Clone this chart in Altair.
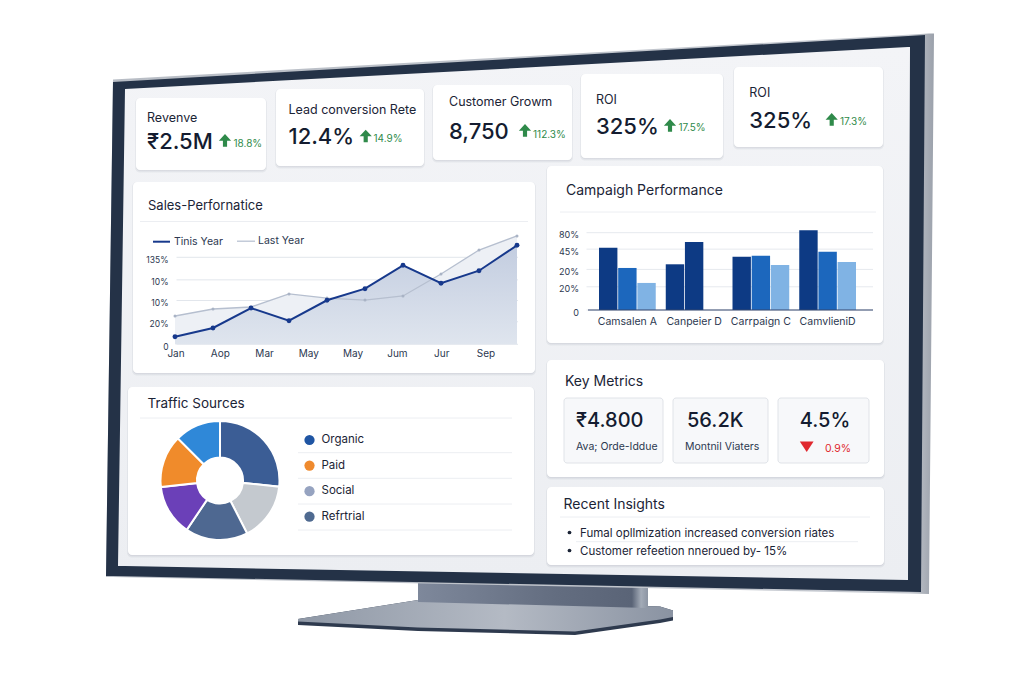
import altair as alt
import pandas as pd

# ---------------- data ----------------
kpi_titles = ["Revenve", "Lead conversion Rete", "Customer Growm", "ROI", "ROI"]
kpi_values = ["₹2.5M", "12.4%", "8,750", "325%", "325%"]
kpi_changes = ["18.8%", "14.9%", "112.3%", "17.5%", "17.3%"]

sales_index = list(range(10))
this_year = [11.8, 25.3, 56.3, 36.6, 68.3, 86.3, 122.6, 94.7, 114.2, 153.6]
last_year = [43.9, 54.8, 57.9, 78.1, 71.8, 68.7, 75.0, 109.1, 146.3, 168.1]
month_labels = ["Jan", "Aop", "Mar", "May", "May", "Jum", "Jur", "Sep"]
sales_ticks = [135, 100, 68, 35, 0]
sales_tick_labels = ["135%", "10%", "10%", "20%", "0"]
sales_legend = ["Tinis Year", "Last Year"]

campaign_labels = ["Camsalen A", "Canpeier D", "Carrpaign C", "CamvlieniD"]
bar_campaign = ["Camsalen A"] * 3 + ["Canpeier D"] * 2 + ["Carrpaign C"] * 3 + ["CamvlieniD"] * 3
bar_slot = ["1", "2", "3", "1", "2", "1", "2", "3", "1", "2", "3"]
bar_tone = ["dark", "mid", "light", "dark", "dark", "dark", "mid", "light", "dark", "mid", "light"]
bar_values = [64.5, 43.5, 28.0, 47.3, 70.4, 55.2, 56.2, 46.6, 82.5, 60.4, 49.7]
camp_ticks = [80, 63, 42, 24, 0]
camp_tick_labels = ["80%", "45%", "20%", "20%", "0"]

donut_sources = ["Organic", "Social", "Refrtrial", "Other 1", "Paid", "Other 2"]
donut_shares = [26.7, 15.8, 17.0, 13.8, 14.3, 12.5]
legend_names = ["Organic", "Paid", "Social", "Refrtrial"]

metric_values = ["₹4.800", "56.2K", "4.5%"]
metric_labels = ["Ava; Orde-Iddue", "Montnil Viaters"]
metric_change = "0.9%"

insights = ["Fumal opllmization increased conversion riates",
            "Customer refeetion nneroued by- 15%"]

# ---------------- styles / layout ----------------
OX, OY = 8, 8
W, H = 1008, 667
FONT = "Inter"
INK = "#1b2436"
SUB = "#2c3850"
GREEN = "#2f8a4a"
RED = "#e0282e"
NAVY = "#17398c"
TONES = ["dark", "mid", "light"]
TONE_COLORS = ["#0d3a84", "#1c67bd", "#80b3e4"]
DONUT_COLORS = ["#3b5d95", "#c4c9cf", "#4e6891", "#6b40b8", "#f08b2b", "#2f88d8"]
LEGEND_COLORS = ["#1f55a3", "#ef8a2e", "#96a3c0", "#4f6a90"]

one = pd.DataFrame({"k": [0]})
layers = []


def X(v):
    return v - OX


def Y(v):
    return v - OY


def rect(x1, y1, x2, y2, fill, radius=0, opacity=1.0, stroke=None, sw=1.0):
    kw = dict(fill=fill, cornerRadius=radius, opacity=opacity)
    if stroke:
        kw.update(stroke=stroke, strokeWidth=sw)
    layers.append(alt.Chart(one).mark_rect(**kw).encode(
        x=alt.value(X(x1)), x2=alt.value(X(x2)), y=alt.value(Y(y1)), y2=alt.value(Y(y2))))


def card(x1, y1, x2, y2, fill="#ffffff", radius=4):
    rect(x1 - 1, y1, x2 + 1, y2 + 2.5, "#1c2a44", radius + 1, 0.05)
    rect(x1, y1 + 0.5, x2, y2 + 1.2, "#1c2a44", radius, 0.06)
    rect(x1, y1, x2, y2, fill, radius)


def label(s, x, y, size, color=INK, weight=400, align="left", baseline="middle"):
    layers.append(alt.Chart(one).mark_text(
        text=s, fontSize=size, color=color, fontWeight=weight, align=align,
        baseline=baseline, font=FONT).encode(x=alt.value(X(x)), y=alt.value(Y(y))))


def hline(x1, x2, y, color, width=1.0, y2=None):
    layers.append(alt.Chart(one).mark_rule(color=color, strokeWidth=width).encode(
        x=alt.value(X(x1)), x2=alt.value(X(x2)), y=alt.value(Y(y)),
        y2=alt.value(Y(y if y2 is None else y2))))


def glyph(path, x, y, size, color):
    layers.append(alt.Chart(one).mark_point(
        shape=path, size=size, filled=True, color=color, opacity=1, strokeWidth=0).encode(
        x=alt.value(X(x)), y=alt.value(Y(y))))


def shape(xs, tops, bots, color):
    df = pd.DataFrame({"x": [X(v) for v in xs], "y": [Y(v) for v in tops],
                       "y2": [Y(v) for v in bots]})
    layers.append(alt.Chart(df).mark_area(orient="vertical", interpolate="linear",
                                          color=color, opacity=1).encode(
        x=alt.X("x:Q", scale=None, axis=None),
        y=alt.Y("y:Q", scale=None, axis=None, stack=False),
        y2="y2:Q"))


def hgrad(stops):
    return alt.Gradient(gradient="linear", x1=0, x2=1, y1=0, y2=0,
                        stops=[alt.GradientStop(color=c, offset=o) for o, c in stops])


def vgrad(stops):
    return alt.Gradient(gradient="linear", x1=0, x2=0, y1=0, y2=1,
                        stops=[alt.GradientStop(color=c, offset=o) for o, c in stops])


# ---------------- monitor stand ----------------
shape([298, 418, 575, 660, 673], [619, 600, 604, 606.5, 610.5], [625, 631, 635, 623, 620.5], "#2e3a4e")
shape([298, 418, 575, 660, 673], [619, 600, 604, 606.5, 610.5], [621.5, 627.5, 631.5, 619.5, 617],
      hgrad([(0, "#8f98a6"), (0.55, "#b4bac4"), (1, "#8a93a2")]))
shape([418, 648], [570, 575], [602, 608], hgrad([(0, "#7e889b"), (0.6, "#636d80"), (0.93, "#5a6477"), (0.97, "#a3abb7"), (1, "#8c95a3")]))

# ---------------- monitor body ----------------
shape([106, 113, 929, 934], [577, 79.5, 33.5, 33.5], [577, 577.1, 594, 33.6], hgrad([(0, "#b8bdc5"), (0.97, "#c6cad1"), (1, "#9ba1ab")]))
shape([106, 113, 921, 925], [576, 82, 35.2, 35], [576, 576.1, 592, 35.1], "#243247")
shape([118, 125, 908, 910], [566, 89, 47.1, 47], [566, 566.1, 580, 47.1],
      vgrad([(0, "#f3f4f7"), (1, "#eceef2")]))

# ---------------- KPI cards ----------------
kpi_boxes = [(136, 98, 266, 170), (276, 89, 424, 166), (433, 85, 572, 160),
             (581, 74, 723, 158), (734, 67, 883, 147)]
kpi_text = [(147, 117.7, 141.7, 225, 233.5, 144),
            (288.5, 110, 137.3, 365.7, 373.5, 139),
            (449, 102.3, 131.7, 525, 533, 135),
            (596, 100, 126.7, 670, 678.5, 128.3),
            (749.3, 93.3, 120.7, 831.7, 840, 121.7)]
ARROW = "M0,-1L1,0.08L0.34,0.08L0.34,1.05L-0.34,1.05L-0.34,0.08L-1,0.08Z"
for (x1, y1, x2, y2), (tx, ty, vy, ax, cx, cy), t, v, c in zip(
        kpi_boxes, kpi_text, kpi_titles, kpi_values, kpi_changes):
    card(x1, y1, x2, y2)
    label(t, tx, ty, 12.5, INK, 400)
    label(v, tx, vy, 22, "#141c30", 500)
    glyph(ARROW, ax, vy - 1.5, 150, GREEN)
    label(c, cx, cy, 10, GREEN, 400)

# ---------------- Sales performance ----------------
card(133, 182, 535, 373)
label("Sales-Perfornatice", 148, 205.5, 13, INK, 400)
hline(140, 528, 221.5, "#eceef2", 1)
hline(153, 170, 241.7, NAVY, 2)
label(sales_legend[0], 174, 241.7, 10.5, SUB)
hline(237, 255, 241.2, "#b9c2d2", 1.3)
label(sales_legend[1], 258, 240.7, 10.5, SUB)

sales_df = pd.DataFrame({"t": sales_index, "this": this_year, "last": last_year})
xs_sales = alt.Scale(type="point", domain=sales_index, range=[X(175), X(517)], padding=0)
ys_sales = alt.Scale(domain=[0, 175], range=[Y(344.3), Y(344.3 - 175 * 0.6444)], nice=False, zero=False)
tick_df = pd.DataFrame({"v": sales_ticks, "lab": sales_tick_labels})

layers.append(alt.Chart(tick_df).mark_rule(color="#e2e6ec", strokeWidth=1).encode(
    y=alt.Y("v:Q", scale=ys_sales, axis=None), x=alt.value(X(176.5)), x2=alt.value(X(518))))
layers.append(alt.Chart(tick_df).mark_text(align="right", baseline="middle", fontSize=8.5,
                                           color=SUB, font=FONT, dy=2.5).encode(
    y=alt.Y("v:Q", scale=ys_sales, axis=None), x=alt.value(X(168.5)), text="lab:N"))

sbase = alt.Chart(sales_df).encode(x=alt.X("t:O", scale=xs_sales, axis=None))
layers.append(sbase.mark_area(color="#edf0f5", interpolate="linear").encode(
    y=alt.Y("last:Q", scale=ys_sales, axis=None, stack=False)))
layers.append(sbase.mark_area(interpolate="linear", color=alt.Gradient(
    gradient="linear", x1=1, x2=1, y1=0, y2=1,
    stops=[alt.GradientStop(color="#c3cde0", offset=0), alt.GradientStop(color="#dfe5ee", offset=1)])).encode(
    y=alt.Y("this:Q", scale=ys_sales, axis=None, stack=False)))
layers.append(sbase.mark_line(color="#b6bfcf", strokeWidth=1.3).encode(
    y=alt.Y("last:Q", scale=ys_sales, axis=None, stack=False)))
layers.append(sbase.mark_circle(size=9, color="#a9b3c5", opacity=1).encode(
    y=alt.Y("last:Q", scale=ys_sales, axis=None, stack=False)))
layers.append(sbase.mark_line(color=NAVY, strokeWidth=2).encode(
    y=alt.Y("this:Q", scale=ys_sales, axis=None, stack=False)))
layers.append(sbase.mark_circle(size=24, color=NAVY, opacity=1).encode(
    y=alt.Y("this:Q", scale=ys_sales, axis=None, stack=False)))

month_df = pd.DataFrame({"i": list(range(len(month_labels))), "m": month_labels})
layers.append(alt.Chart(month_df).mark_text(fontSize=10, color=SUB, font=FONT, baseline="middle").encode(
    x=alt.X("i:O", scale=alt.Scale(type="point", domain=list(range(len(month_labels))),
                                   range=[X(176), X(486)], padding=0), axis=None),
    y=alt.value(Y(354)), text="m:N"))

# ---------------- Campaign performance ----------------
card(547, 166, 883, 343)
label("Campaigh Performance", 566, 190.5, 14, INK, 400)
hline(560, 876, 212, "#eceef2", 1)
camp_df = pd.DataFrame({"campaign": bar_campaign, "slot": bar_slot, "tone": bar_tone, "value": bar_values})
xs_camp = alt.Scale(domain=campaign_labels, range=[X(594), X(861)], paddingInner=0.15, paddingOuter=0.075)
ys_camp = alt.Scale(domain=[0, 80], range=[Y(310), Y(232.7)], nice=False, zero=False)
ctick_df = pd.DataFrame({"v": camp_ticks, "lab": camp_tick_labels})
layers.append(alt.Chart(ctick_df).mark_rule(color="#e6e9ee", strokeWidth=1).encode(
    y=alt.Y("v:Q", scale=ys_camp, axis=None), x=alt.value(X(586.5)), x2=alt.value(X(873))))
layers.append(alt.Chart(ctick_df).mark_text(align="right", baseline="middle", fontSize=9,
                                            color=SUB, font=FONT, dy=2.5).encode(
    y=alt.Y("v:Q", scale=ys_camp, axis=None), x=alt.value(X(579)), text="lab:N"))
layers.append(alt.Chart(camp_df).mark_bar().encode(
    x=alt.X("campaign:N", scale=xs_camp, axis=None),
    xOffset=alt.XOffset("slot:N", scale=alt.Scale(domain=["1", "2", "3"], paddingInner=0.04)),
    y=alt.Y("value:Q", scale=ys_camp, axis=None, stack=False),
    color=alt.Color("tone:N", scale=alt.Scale(domain=TONES, range=TONE_COLORS), legend=None)))
hline(588, 873, 310, "#34476e", 1.2)
layers.append(alt.Chart(pd.DataFrame({"campaign": campaign_labels})).mark_text(
    fontSize=10.5, color=SUB, font=FONT, baseline="middle").encode(
    x=alt.X("campaign:N", scale=xs_camp, axis=None), y=alt.value(Y(322)), text="campaign:N"))

# ---------------- Traffic sources ----------------
card(128, 387, 534, 555)
label("Traffic Sources", 147.5, 403.5, 13.5, INK, 400)
hline(140, 512, 418, "#eceef2", 1)
donut_df = pd.DataFrame({"source": donut_sources, "share": donut_shares,
                         "k": list(range(len(donut_sources)))})
layers.append(alt.Chart(donut_df).mark_arc(innerRadius=23, outerRadius=59.5, stroke="#ffffff",
                                           strokeWidth=2).encode(
    theta=alt.Theta("share:Q", stack=True),
    order=alt.Order("k:Q", sort="ascending"),
    color=alt.Color("source:N", scale=alt.Scale(domain=donut_sources, range=DONUT_COLORS), legend=None),
    x=alt.value(X(220)), y=alt.value(Y(480.5))))
for yy in [452.7, 478.3, 504, 530]:
    hline(298, 512, yy, "#eceef2", 1)
leg_df = pd.DataFrame({"name": legend_names})
ys_leg = alt.Scale(type="point", domain=legend_names, range=[Y(440), Y(516.7)], padding=0)
layers.append(alt.Chart(leg_df).mark_circle(size=105, opacity=1).encode(
    y=alt.Y("name:N", scale=ys_leg, axis=None), x=alt.value(X(309.5)),
    color=alt.Color("name:N", scale=alt.Scale(domain=legend_names, range=LEGEND_COLORS), legend=None)))
layers.append(alt.Chart(leg_df).mark_text(align="left", baseline="middle", fontSize=11.5,
                                          color=INK, font=FONT).encode(
    y=alt.Y("name:N", scale=ys_leg, axis=None), x=alt.value(X(321.5)), text="name:N"))

# ---------------- Key metrics ----------------
card(547, 360, 884, 477)
label("Key Metrics", 565, 381.5, 14, INK, 400)
sub_boxes = [(564, 398, 663, 463), (673, 398, 768, 463), (778, 398, 869, 463)]
for (x1, y1, x2, y2) in sub_boxes:
    rect(x1, y1, x2, y2, "#f7f8fa", 3, 1.0, "#e0e3e8", 1)
label(metric_values[0], 576, 421, 20, "#141c30", 500)
label(metric_labels[0], 576, 446.7, 10.5, SUB)
label(metric_values[1], 687, 421, 20, "#141c30", 500)
label(metric_labels[1], 685, 447, 10.5, SUB)
label(metric_values[2], 825, 421, 20, "#141c30", 500, align="center")
glyph("M-1,-0.72L1,-0.72L0,0.78Z", 806.7, 446.5, 190, RED)
label(metric_change, 825, 449, 10.5, RED, 400)

# ---------------- Recent insights ----------------
card(547, 487, 884, 565)
label("Recent Insights", 563.5, 505, 14, INK, 400)
hline(560, 870, 517, "#eceef2", 1)
hline(576, 858, 541.7, "#eceef2", 1)
ins_df = pd.DataFrame({"line": insights, "k": list(range(len(insights)))})
ys_ins = alt.Scale(type="point", domain=list(range(len(insights))), range=[Y(532.5), Y(550.5)], padding=0)
layers.append(alt.Chart(ins_df).mark_circle(size=14, color=INK, opacity=1).encode(
    y=alt.Y("k:O", scale=ys_ins, axis=None), x=alt.value(X(569.5))))
layers.append(alt.Chart(ins_df).mark_text(align="left", baseline="middle", fontSize=11.5,
                                          color=INK, font=FONT, dy=1).encode(
    y=alt.Y("k:O", scale=ys_ins, axis=None), x=alt.value(X(580)), text="line:N"))

chart = alt.layer(*layers).resolve_scale(
    x="independent", y="independent", color="independent",
    theta="independent", xOffset="independent"
).properties(width=W, height=H, padding=0, autosize="none", background="#ffffff"
).configure_view(strokeWidth=0)

chart.save("out.html", embed_options={"renderer": "svg", "actions": False})
